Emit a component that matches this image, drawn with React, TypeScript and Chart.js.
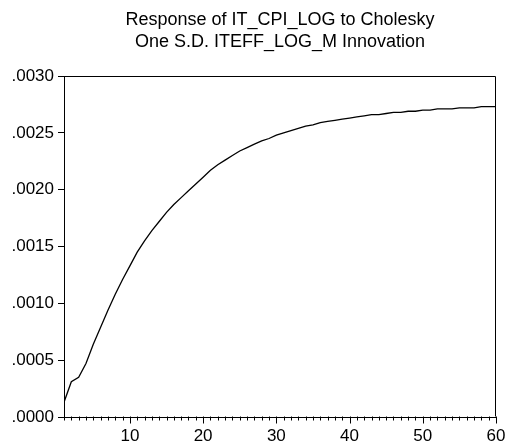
import React, { useEffect, useRef } from "react";
import { Chart, registerables } from "chart.js";

Chart.register(...registerables);

const TITLE_LINES = ["Response of IT_CPI_LOG to Cholesky", "One S.D. ITEFF_LOG_M Innovation"];

const PERIODS = Array.from({ length: 60 }, (_, i) => i + 1);

const RESPONSE = [
  0.00013, 0.00031, 0.00035, 0.00047, 0.00064, 0.00079, 0.00094, 0.00108, 0.00121, 0.00133,
  0.00145, 0.00155, 0.00164, 0.00172, 0.0018, 0.00187, 0.00193, 0.00199, 0.00205, 0.00211,
  0.00217, 0.00222, 0.00226, 0.0023, 0.00234, 0.00237, 0.0024, 0.00243, 0.00245, 0.00248,
  0.0025, 0.00252, 0.00254, 0.00256, 0.00257, 0.00259, 0.0026, 0.00261, 0.00262, 0.00263,
  0.00264, 0.00265, 0.00266, 0.00266, 0.00267, 0.00268, 0.00268, 0.00269, 0.00269, 0.0027,
  0.0027, 0.00271, 0.00271, 0.00271, 0.00272, 0.00272, 0.00272, 0.00273, 0.00273, 0.00273,
];

const Y_MIN = 0;
const Y_MAX = 0.003;
const Y_STEP = 0.0005;
const X_MIN = 1;
const X_MAX = 60;
const X_LABEL_EVERY = 10;

const FONT = "'Liberation Sans', Arial, sans-serif";

const framePlugin = {
  id: "frameAndTitle",
  afterDraw(chart: any) {
    const { ctx, chartArea } = chart;
    const x = chart.scales.x;
    ctx.save();
    ctx.strokeStyle = "#000";
    ctx.lineWidth = 1;
    ctx.beginPath();
    const l = Math.round(chartArea.left) + 0.5;
    const r = Math.round(chartArea.right) - 0.5;
    const t = Math.round(chartArea.top) + 0.5;
    const b = Math.round(chartArea.bottom) - 0.5;
    ctx.moveTo(l, t);
    ctx.lineTo(r, t);
    ctx.lineTo(r, b);
    ctx.stroke();
    ctx.beginPath();
    for (let v = X_MIN; v <= X_MAX; v++) {
      const px = Math.round(x.getPixelForValue(v)) + 0.5;
      const len = v % X_LABEL_EVERY === 0 ? 7 : 4;
      ctx.moveTo(px, b);
      ctx.lineTo(px, b + len);
    }
    ctx.stroke();
    ctx.fillStyle = "#000";
    ctx.font = `18px ${FONT}`;
    ctx.textAlign = "center";
    ctx.textBaseline = "middle";
    const cx = (chartArea.left + chartArea.right) / 2;
    ctx.fillText(TITLE_LINES[0], cx, 20);
    ctx.fillText(TITLE_LINES[1], cx, 42);
    ctx.restore();
  },
};

export default function App() {
  const ref = useRef<HTMLCanvasElement>(null);
  useEffect(() => {
    if (!ref.current) return;
    const chart = new Chart(ref.current, {
      type: "line",
      data: {
        labels: PERIODS,
        datasets: [
          {
            data: PERIODS.map((p, i) => ({ x: p, y: RESPONSE[i] })),
            borderColor: "#000",
            borderWidth: 1.3,
            pointRadius: 0,
            tension: 0,
            fill: false,
          },
        ],
      },
      options: {
        animation: false,
        responsive: false,
        devicePixelRatio: 1,
        layout: { padding: { top: 76, right: 15, left: 0, bottom: 0 } },
        plugins: { legend: { display: false }, title: { display: false }, tooltip: { enabled: false } },
        scales: {
          x: {
            type: "linear",
            min: X_MIN,
            max: X_MAX,
            afterBuildTicks: (s: any) => {
              s.ticks = PERIODS.filter((v) => v % X_LABEL_EVERY === 0).map((v) => ({ value: v }));
            },
            afterFit: (s: any) => {
              s.height = 28;
            },
            grid: { display: true, drawOnChartArea: false, drawTicks: true, tickLength: 6, tickColor: "rgba(0,0,0,0)" },
            border: { display: true, color: "#000", width: 1 },
            ticks: {
              color: "#000",
              font: { family: FONT, size: 17 },
              padding: 3,
              maxRotation: 0,
              autoSkip: false,
              callback: (v: any) => String(v),
            },
          },
          y: {
            min: Y_MIN,
            max: Y_MAX,
            afterFit: (s: any) => {
              s.width = 64;
            },
            grid: { display: true, drawOnChartArea: false, drawTicks: true, tickLength: 6, tickColor: "#000" },
            border: { display: true, color: "#000", width: 1 },
            ticks: {
              stepSize: Y_STEP,
              color: "#000",
              font: { family: FONT, size: 17 },
              padding: 4,
              callback: (v: any) => Number(v).toFixed(4).replace(/^0/, ""),
            },
          },
        },
      },
      plugins: [framePlugin],
    });
    return () => chart.destroy();
  }, []);
  return (
    <div style={{ position: "fixed", left: 0, top: 0, width: 511, height: 445, background: "#fff" }}>
      <canvas ref={ref} width={511} height={445} />
    </div>
  );
}
